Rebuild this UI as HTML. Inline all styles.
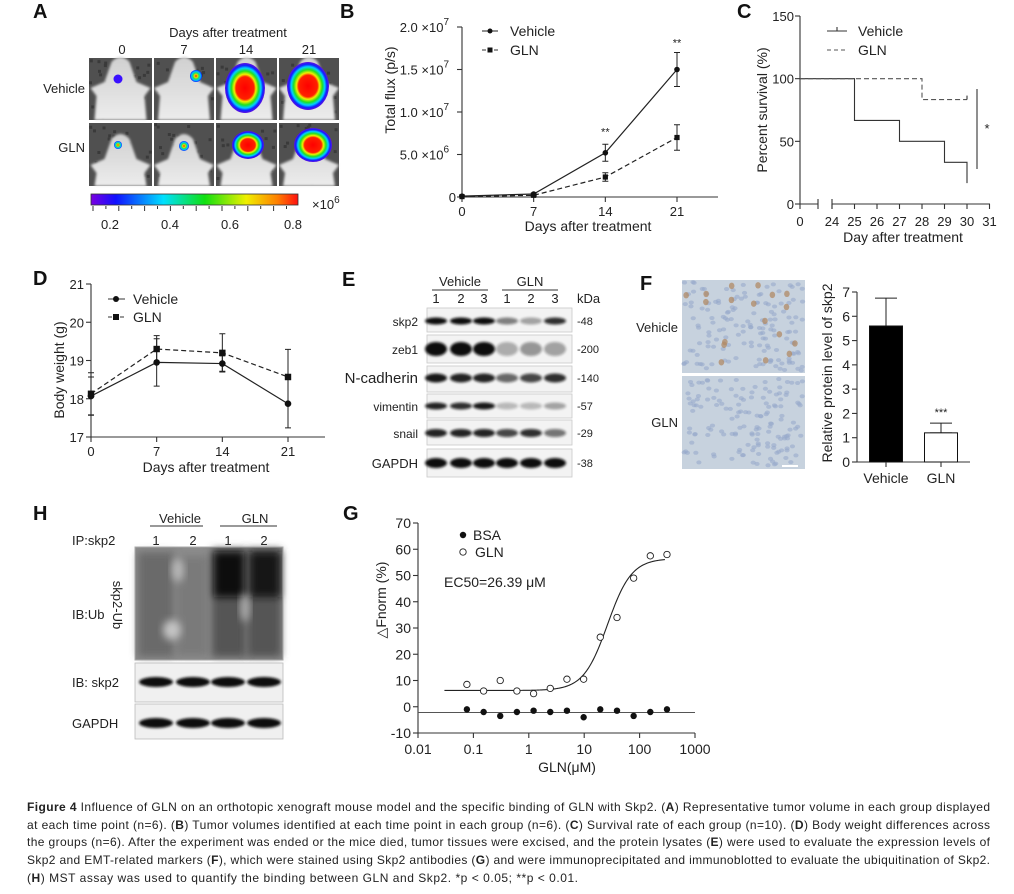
<!DOCTYPE html>
<html><head><meta charset="utf-8">
<style>
html,body{margin:0;padding:0;background:#fff;}
svg{display:block;font-family:"Liberation Sans",Arial,sans-serif;}
.t{font-size:13px;fill:#222;}
.lab{font-size:20px;font-weight:bold;fill:#111;}
.cap{font-size:12px;fill:#222;font-family:"Liberation Sans","DejaVu Sans",sans-serif;}
</style></head>
<body>
<svg id="fig" width="1014" height="894" viewBox="0 0 1014 894" xmlns="http://www.w3.org/2000/svg">
<defs>
<filter id="blur1" x="-30%" y="-60%" width="160%" height="220%"><feGaussianBlur stdDeviation="1.3"/></filter>
<filter id="blur3" x="-30%" y="-30%" width="160%" height="160%"><feGaussianBlur stdDeviation="4"/></filter>
<filter id="blur2" x="-30%" y="-30%" width="160%" height="160%"><feGaussianBlur stdDeviation="1.2"/></filter>
<linearGradient id="cbar" x1="0" x2="1" y1="0" y2="0">
<stop offset="0" stop-color="#7a00e0"/><stop offset="0.12" stop-color="#1010ff"/><stop offset="0.35" stop-color="#00e0ff"/><stop offset="0.55" stop-color="#10e010"/><stop offset="0.75" stop-color="#f0f000"/><stop offset="0.9" stop-color="#ff8000"/><stop offset="1" stop-color="#ff1010"/>
</linearGradient>
<radialGradient id="blob" cx="0.5" cy="0.5" r="0.5">
<stop offset="0" stop-color="#ff0000"/><stop offset="0.45" stop-color="#ff2000"/><stop offset="0.55" stop-color="#f0f000"/><stop offset="0.68" stop-color="#20e020"/><stop offset="0.8" stop-color="#00d0ff"/><stop offset="0.9" stop-color="#1020ff"/><stop offset="1" stop-color="#6010e0"/>
</radialGradient>
<radialGradient id="blobS" cx="0.5" cy="0.5" r="0.5">
<stop offset="0" stop-color="#ff2000"/><stop offset="0.3" stop-color="#e0e000"/><stop offset="0.5" stop-color="#20e060"/><stop offset="0.75" stop-color="#00c0ff"/><stop offset="1" stop-color="#1020ff"/>
</radialGradient>
<linearGradient id="bodyg" x1="0" x2="0" y1="0" y2="1"><stop offset="0" stop-color="#d0d0d0"/><stop offset="1" stop-color="#ececec"/></linearGradient>
</defs>
<rect x="0" y="0" width="1014" height="894" fill="#fff"/>

<g id="panelA">
<text class="lab" x="33" y="18">A</text>
<text class="t" x="228" y="37" text-anchor="middle" font-size="14">Days after treatment</text>
<text class="t" x="122" y="54" text-anchor="middle" font-size="14">0</text>
<text class="t" x="184" y="54" text-anchor="middle" font-size="14">7</text>
<text class="t" x="246" y="54" text-anchor="middle" font-size="14">14</text>
<text class="t" x="309" y="54" text-anchor="middle" font-size="14">21</text>
<text class="t" x="85" y="93" text-anchor="end" font-size="14">Vehicle</text>
<text class="t" x="85" y="152" text-anchor="end" font-size="14">GLN</text>
<rect x="91" y="194" width="207" height="11" fill="url(#cbar)" stroke="#333" stroke-width="0.8"/>
<g id="cbticks"></g>
<text class="t" x="110" y="229" text-anchor="middle" font-size="14">0.2</text>
<text class="t" x="170" y="229" text-anchor="middle" font-size="14">0.4</text>
<text class="t" x="230" y="229" text-anchor="middle" font-size="14">0.6</text>
<text class="t" x="293" y="229" text-anchor="middle" font-size="14">0.8</text>
<text class="t" x="312" y="209" font-size="14">×10<tspan dy="-6" font-size="10">6</tspan></text>
</g>

<g id="panelB">
<text class="lab" x="340" y="18">B</text>
</g>
<g id="panelC">
<text class="lab" x="737" y="18">C</text>
</g>
<g id="panelD">
<text class="lab" x="33" y="285">D</text>
</g>

<g id="panelE">
<text class="lab" x="342" y="286">E</text>
<text class="t" x="460" y="286" text-anchor="middle" font-size="13">Vehicle</text>
<line x1="432" y1="290" x2="488" y2="290" stroke="#333"/>
<text class="t" x="530" y="286" text-anchor="middle" font-size="13">GLN</text>
<line x1="502" y1="290" x2="558" y2="290" stroke="#333"/>
<text class="t" x="577" y="303" font-size="10">kDa</text>
</g>

<g id="panelF">
<text class="lab" x="640" y="290">F</text>
<text class="t" x="678" y="332" text-anchor="end" font-size="14">Vehicle</text>
<text class="t" x="678" y="427" text-anchor="end" font-size="14">GLN</text>
</g>

<g id="panelH">
<text class="lab" x="33" y="520">H</text>
<text class="t" x="180" y="523" text-anchor="middle" font-size="13">Vehicle</text>
<line x1="150" y1="526" x2="203" y2="526" stroke="#333"/>
<text class="t" x="255" y="523" text-anchor="middle" font-size="13">GLN</text>
<line x1="220" y1="526" x2="277" y2="526" stroke="#333"/>
<text class="t" x="72" y="545" font-size="13">IP:skp2</text>
<text class="t" x="156" y="545" text-anchor="middle" font-size="13">1</text>
<text class="t" x="193" y="545" text-anchor="middle" font-size="13">2</text>
<text class="t" x="228" y="545" text-anchor="middle" font-size="13">1</text>
<text class="t" x="264" y="545" text-anchor="middle" font-size="13">2</text>
<text class="t" x="72" y="619" font-size="13">IB:Ub</text>
<text class="t" x="113" y="605" font-size="13" text-anchor="middle" transform="rotate(90 113 605)">skp2-Ub</text>
<text class="t" x="72" y="687" font-size="13">IB: skp2</text>
<text class="t" x="72" y="728" font-size="13">GAPDH</text>
</g>

<g id="panelG">
<text class="lab" x="343" y="520">G</text>
</g>

<g id="caption">
<text class="cap" x="27" y="811" textLength="963" lengthAdjust="spacing"><tspan font-weight="bold">Figure 4</tspan> Influence of GLN on an orthotopic xenograft mouse model and the specific binding of GLN with Skp2. (<tspan font-weight="bold">A</tspan>) Representative tumor volume in each group displayed</text>
<text class="cap" x="27" y="829" textLength="963" lengthAdjust="spacing">at each time point (n=6). (<tspan font-weight="bold">B</tspan>) Tumor volumes identified at each time point in each group (n=6). (<tspan font-weight="bold">C</tspan>) Survival rate of each group (n=10). (<tspan font-weight="bold">D</tspan>) Body weight differences across</text>
<text class="cap" x="27" y="846" textLength="963" lengthAdjust="spacing">the groups (n=6). After the experiment was ended or the mice died, tumor tissues were excised, and the protein lysates (<tspan font-weight="bold">E</tspan>) were used to evaluate the expression levels of</text>
<text class="cap" x="27" y="864" textLength="963" lengthAdjust="spacing">Skp2 and EMT-related markers (<tspan font-weight="bold">F</tspan>), which were stained using Skp2 antibodies (<tspan font-weight="bold">G</tspan>) and were immunoprecipitated and immunoblotted to evaluate the ubiquitination of Skp2.</text>
<text class="cap" x="27" y="882" textLength="551" lengthAdjust="spacing">(<tspan font-weight="bold">H</tspan>) MST assay was used to quantify the binding between GLN and Skp2. *p &lt; 0.05; **p &lt; 0.01.</text>
</g>
</svg>

<script>
// ===== Panel B data =====
var bDays = [0, 7, 14, 21];
var bVehicle = [0.1e6, 0.35e6, 5.2e6, 15.0e6];
var bVehicleErr = [0.05e6, 0.1e6, 1.0e6, 2.0e6];
var bGLN = [0.05e6, 0.2e6, 2.35e6, 7.0e6];
var bGLNErr = [0.03e6, 0.08e6, 0.5e6, 1.5e6];
var bYTicks = [0, 5e6, 1e7, 1.5e7, 2e7];
var bYTickLabels = [["0",""], ["5.0 ×10","6"], ["1.0 ×10","7"], ["1.5 ×10","7"], ["2.0 ×10","7"]];
var bXTicks = [0, 7, 14, 21];
// ===== Panel C data =====
var cVehicleSteps = [[0,100],[25,100],[25,66.7],[27,66.7],[27,50],[29,50],[29,33.3],[30,33.3],[30,16.7]];
var cGLNSteps = [[0,100],[28,100],[28,83.3],[30,83.3]];
var cYTicks = [0, 50, 100, 150];
var cXTicks = [0, 24, 25, 26, 27, 28, 29, 30, 31];
// ===== Panel D data =====
var dDays = [0, 7, 14, 21];
var dVehicle = [18.07, 18.95, 18.92, 17.87];
var dVehicleErr = [0.5, 0.62, 0.2, 0.63];
var dGLN = [18.13, 19.3, 19.2, 18.57];
var dGLNErr = [0.55, 0.35, 0.5, 0.72];
var dYTicks = [17, 18, 19, 20, 21];
var dXTicks = [0, 7, 14, 21];
// ===== Panel F data =====
var fCats = ["Vehicle", "GLN"];
var fValues = [5.6, 1.2];
var fErr = [1.15, 0.4];
var fYTicks = [0, 1, 2, 3, 4, 5, 6, 7];
// ===== Panel G data =====
var gConc = [0.0763,0.153,0.305,0.61,1.22,2.44,4.88,9.77,19.5,39.1,78.1,156,312];
var gGLN = [8.5, 6, 10, 6, 5, 7, 10.5, 10.5, 26.5, 34, 49, 57.5, 58];
var gBSA = [-1, -2, -3.5, -2, -1.5, -2, -1.5, -4, -1, -1.5, -3.5, -2, -1];
var gFit = [6.2, 56.5, 26.39, 2.0]; // bottom, top, EC50, hill
var gBSALine = [-2.2];
var gYTicks = [-10, 0, 10, 20, 30, 40, 50, 60, 70];
var gXTicks = [0.01, 0.1, 1, 10, 100, 1000];
var gXTickLabels = ["0.01", "0.1", "1", "10", "100", "1000"];

var NS = "http://www.w3.org/2000/svg";
function mk(tag, attrs, parent) {
  var e = document.createElementNS(NS, tag);
  for (var k in attrs) e.setAttribute(k, attrs[k]);
  parent.appendChild(e);
  return e;
}
var el;
function G(id){ return document.getElementById(id); }

// ---------- Panel A ----------
(function(){
  var pA = G('panelA');
  var ct = G('cbticks');
  for (var i = 0; i < 16; i++) {
    var x = 93 + i * 12.9;
    el = mk('line', {x1:x, y1:206, x2:x, y2:(i%2==0?211:209), stroke:'#333', 'stroke-width':1}, ct);
    
    
  }
  var cells = [[89,58,63,62],[154,58,60,62],[216,58,61,62],[279,58,60,62],[89,123,63,63],[154,123,60,63],[216,123,61,63],[279,123,60,63]];
  var blobs = [[118,79,4,4,'s'],[196,76,6,6,'s'],[245,88,20,25,'b'],[308,86,21,24,'b'],[118,145,4,4,'s'],[184,146,5,5,'s'],[248,145,16,14,'b'],[313,145,19,17,'b']];
  var seed = 3;
  function rnd(){ seed = (seed * 16807) % 2147483647; return seed / 2147483647; }
  for (var j = 0; j < 8; j++) {
    var c = cells[j];
    var g = mk('g', {}, pA);
    
    
    mk('rect', {x:c[0], y:c[1], width:c[2], height:c[3], fill:'#505050'}, g);
    for (var n = 0; n < 25; n++) {
      mk('rect', {x:c[0]+rnd()*(c[2]-3), y:c[1]+rnd()*(c[3]-3), width:3, height:3, fill:'#3a3a3a'}, g);
    }
    var cx = c[0] + c[2]/2, y0 = c[1];
    var top = j<4 ? 4 : 16;
    var d = 'M'+(cx-9)+','+(y0+top)+' Q'+cx+','+(y0+top-10)+' '+(cx+9)+','+(y0+top)+
      ' L'+(cx+16)+','+(y0+top+20)+' L'+(cx+30)+','+(y0+top+26)+' L'+(cx+24)+','+(y0+top+34)+
      ' L'+(cx+26)+','+(y0+c[3])+' L'+(cx-26)+','+(y0+c[3])+' L'+(cx-24)+','+(y0+top+34)+
      ' L'+(cx-30)+','+(y0+top+26)+' L'+(cx-16)+','+(y0+top+20)+' Z';
    mk('path', {d:d, fill:'url(#bodyg)', filter:'url(#blur2)'}, g);
    var b = blobs[j];
    mk('ellipse', {cx:b[0], cy:b[1], rx:b[2], ry:b[3], fill: b[4]=='b' ? 'url(#blob)' : 'url(#blobS)'}, g);
  }
  var bv = blobs[0];
  mk('ellipse', {cx:bv[0], cy:bv[1], rx:4.5, ry:4.5, fill:'#3a10ff'}, pA);
})();

// ---------- Axis helpers ----------
function axisLine(p, x1,y1,x2,y2,name){
  el = mk('line', {x1:x1,y1:y1,x2:x2,y2:y2,stroke:'#333','stroke-width':1.1}, p);
  
  
}
function txt(p, x, y, s, anchor, size, name){
  var t = mk('text', {x:x, y:y, 'text-anchor':anchor||'middle', 'font-size':size||13, fill:'#222'}, p);
  t.textContent = s;
  
  
  return t;
}
function errbar(p, x, y1, y2, w, name){
  var d = 'M'+x+','+y1+' V'+y2+' M'+(x-w)+','+y1+' H'+(x+w)+' M'+(x-w)+','+y2+' H'+(x+w);
  el = mk('path', {d:d, stroke:'#222', 'stroke-width':1, fill:'none'}, p);
  
  
}

// ---------- Panel B ----------
(function(){
  var p = G('panelB');
  function xB(d){ return 462 + d * (677-462)/21; }
  function yB(v){ return 197 - v/2e7 * 170; }
  axisLine(p, 462, yB(2e7), 462, 197, 'b-y-axis');
  axisLine(p, 462, 197, 718, 197, 'b-x-axis');
  bYTicks.forEach(function(v,i){
    axisLine(p, 457, yB(v), 462, yB(v), 'b-y-tick');
    var t = txt(p, 456, yB(v)+5, bYTickLabels[i][0], 'end', 13, 'b-y-tick-label');
    if (bYTickLabels[i][1]) {
      t.setAttribute('x', 449);
      var s = mk('tspan', {dy:-7, 'font-size':10}, t);
      s.textContent = bYTickLabels[i][1];
    }
  });
  bXTicks.forEach(function(d){
    axisLine(p, xB(d), 197, xB(d), 202, 'b-x-tick');
    txt(p, xB(d), 216, String(d), 'middle', 13, 'b-x-tick-label');
  });
  txt(p, 588, 231, 'Days after treatment', 'middle', 14, 'b-x-axis-title');
  var yt = txt(p, 395, 90, 'Total flux (p/s)', 'middle', 14, 'b-y-axis-title');
  yt.setAttribute('transform', 'rotate(-90 395 90)');
  var pts = bDays.map(function(d,i){ return xB(d)+','+yB(bVehicle[i]); }).join(' ');
  el = mk('polyline', {points:pts, fill:'none', stroke:'#222', 'stroke-width':1.2}, p);
  
  
  var pts2 = bDays.map(function(d,i){ return xB(d)+','+yB(bGLN[i]); }).join(' ');
  el = mk('polyline', {points:pts2, fill:'none', stroke:'#222', 'stroke-width':1.2, 'stroke-dasharray':'5,3'}, p);
  
  
  bDays.forEach(function(d,i){
    errbar(p, xB(d), yB(bVehicle[i]+bVehicleErr[i]), yB(bVehicle[i]-bVehicleErr[i]), 3, 'b-vehicle-errorbar');
    errbar(p, xB(d), yB(bGLN[i]+bGLNErr[i]), yB(bGLN[i]-bGLNErr[i]), 3, 'b-gln-errorbar');
    el = mk('circle', {cx:xB(d), cy:yB(bVehicle[i]), r:2.8, fill:'#111'}, p);
    
    
    el = mk('rect', {x:xB(d)-2.6, y:yB(bGLN[i])-2.6, width:5.2, height:5.2, fill:'#111'}, p);
    
    
  });
  txt(p, xB(14), yB(bVehicle[2]+bVehicleErr[2])-9, '**', 'middle', 11, 'b-significance-14');
  txt(p, xB(21), yB(bVehicle[3]+bVehicleErr[3])-6, '**', 'middle', 11, 'b-significance-21');
  axisLine(p, 482, 31, 498, 31, 'b-legend-vehicle-line');
  el = mk('circle', {cx:490, cy:31, r:2.5, fill:'#111'}, p);
  
  
  txt(p, 510, 36, 'Vehicle', 'start', 14, 'b-legend-vehicle-label');
  el = mk('line', {x1:482, y1:50, x2:498, y2:50, stroke:'#333', 'stroke-dasharray':'4,2'}, p);
  
  
  el = mk('rect', {x:487.5, y:47.5, width:5, height:5, fill:'#111'}, p);
  
  
  txt(p, 510, 55, 'GLN', 'start', 14, 'b-legend-gln-label');
})();

// ---------- Panel C ----------
(function(){
  var p = G('panelC');
  function xC(d){ return d == 0 ? 800 : 832 + (d-24)*22.5; }
  function yC(v){ return 204 - v * 188/150; }
  axisLine(p, 800, 16, 800, 204, 'c-y-axis');
  axisLine(p, 800, 204, 818, 204, 'c-x-axis-left');
  axisLine(p, 818, 199, 818, 209, 'c-x-axis-break-left');
  axisLine(p, 832, 204, 990, 204, 'c-x-axis-right');
  axisLine(p, 832, 199, 832, 209, 'c-x-axis-break-right');
  cYTicks.forEach(function(v){
    axisLine(p, 795, yC(v), 800, yC(v), 'c-y-tick');
    txt(p, 794, yC(v)+5, String(v), 'end', 13, 'c-y-tick-label');
  });
  cXTicks.forEach(function(d){
    axisLine(p, xC(d), 204, xC(d), 209, 'c-x-tick');
    txt(p, xC(d), 226, String(d), 'middle', 13, 'c-x-tick-label');
  });
  txt(p, 903, 242, 'Day after treatment', 'middle', 14, 'c-x-axis-title');
  var yt = txt(p, 767, 110, 'Percent survival (%)', 'middle', 14, 'c-y-axis-title');
  yt.setAttribute('transform', 'rotate(-90 767 110)');
  function stepPath(steps){
    return steps.map(function(s,i){ return (i?'L':'M')+xC(s[0])+','+yC(s[1]); }).join(' ');
  }
  el = mk('path', {d:stepPath(cVehicleSteps), fill:'none', stroke:'#333', 'stroke-width':1.1}, p);
  
  
  el = mk('path', {d:stepPath(cGLNSteps), fill:'none', stroke:'#555', 'stroke-width':1.1, 'stroke-dasharray':'5,3'}, p);
  
  
  var last = cGLNSteps[cGLNSteps.length-1];
  axisLine(p, xC(last[0]), yC(last[1])-4, xC(last[0]), yC(last[1]), 'c-gln-censor-mark');
  axisLine(p, 977, 89, 977, 169, 'c-significance-bracket');
  txt(p, 987, 133, '*', 'middle', 13, 'c-significance-star');
  axisLine(p, 827, 31, 847, 31, 'c-legend-vehicle-line');
  axisLine(p, 837, 27, 837, 31, 'c-legend-vehicle-tick');
  txt(p, 858, 36, 'Vehicle', 'start', 14, 'c-legend-vehicle-label');
  el = mk('line', {x1:827, y1:50, x2:847, y2:50, stroke:'#555', 'stroke-dasharray':'4,3'}, p);
  
  
  txt(p, 858, 55, 'GLN', 'start', 14, 'c-legend-gln-label');
})();

// ---------- Panel D ----------
(function(){
  var p = G('panelD');
  function xD(d){ return 91 + d * (288-91)/21; }
  function yD(w){ return 437 - (w-17) * 38.25; }
  axisLine(p, 91, yD(21), 91, 437, 'd-y-axis');
  axisLine(p, 91, 437, 325, 437, 'd-x-axis');
  dYTicks.forEach(function(v){
    axisLine(p, 86, yD(v), 91, yD(v), 'd-y-tick');
    txt(p, 84, yD(v)+5, String(v), 'end', 13, 'd-y-tick-label');
  });
  dXTicks.forEach(function(d){
    axisLine(p, xD(d), 437, xD(d), 442, 'd-x-tick');
    txt(p, xD(d), 456, String(d), 'middle', 13, 'd-x-tick-label');
  });
  txt(p, 206, 472, 'Days after treatment', 'middle', 14, 'd-x-axis-title');
  var yt = txt(p, 64, 370, 'Body weight (g)', 'middle', 14, 'd-y-axis-title');
  yt.setAttribute('transform', 'rotate(-90 64 370)');
  el = mk('polyline', {points:dDays.map(function(d,i){return xD(d)+','+yD(dVehicle[i]);}).join(' '), fill:'none', stroke:'#222', 'stroke-width':1.2}, p);
  
  
  el = mk('polyline', {points:dDays.map(function(d,i){return xD(d)+','+yD(dGLN[i]);}).join(' '), fill:'none', stroke:'#222', 'stroke-width':1.2, 'stroke-dasharray':'5,3'}, p);
  
  
  dDays.forEach(function(d,i){
    errbar(p, xD(d), yD(dVehicle[i]+dVehicleErr[i]), yD(dVehicle[i]-dVehicleErr[i]), 3, 'd-vehicle-errorbar');
    errbar(p, xD(d), yD(dGLN[i]+dGLNErr[i]), yD(dGLN[i]-dGLNErr[i]), 3, 'd-gln-errorbar');
    el = mk('circle', {cx:xD(d), cy:yD(dVehicle[i]), r:3.3, fill:'#111'}, p);
    
    
    el = mk('rect', {x:xD(d)-3.2, y:yD(dGLN[i])-3.2, width:6.4, height:6.4, fill:'#111'}, p);
    
    
  });
  axisLine(p, 108, 299, 125, 299, 'd-legend-vehicle-line');
  el = mk('circle', {cx:116, cy:299, r:3, fill:'#111'}, p);
  
  
  txt(p, 133, 304, 'Vehicle', 'start', 14, 'd-legend-vehicle-label');
  el = mk('line', {x1:108, y1:317, x2:125, y2:317, stroke:'#333', 'stroke-dasharray':'4,2'}, p);
  
  
  el = mk('rect', {x:113, y:314, width:6, height:6, fill:'#111'}, p);
  
  
  txt(p, 133, 322, 'GLN', 'start', 14, 'd-legend-gln-label');
})();

// ---------- Panel E (blots) ----------
(function(){
  var p = G('panelE');
  var lanes = [436, 461, 484, 507, 531, 555];
  var laneNums = ['1','2','3','1','2','3'];
  lanes.forEach(function(x,i){ txt(p, x, 303, laneNums[i], 'middle', 13, 'e-lane-number'); });
  var rows = [
    ['skp2', 308, 332, 321, 3.5, [1,1,1,.5,.35,.85], '48', 12],
    ['zeb1', 335, 363, 349, 7, [1,1,1,.3,.4,.35], '200', 12],
    ['N-cadherin', 366, 392, 378, 4.5, [.95,.9,.9,.6,.75,.85], '140', 15],
    ['vimentin', 394, 418, 406, 3.5, [.9,.85,.95,.25,.25,.35], '57', 12],
    ['snail', 420, 445, 433, 4, [.9,.9,.9,.75,.85,.55], '29', 12],
    ['GAPDH', 449, 477, 463, 5, [1,1,1,1,1,1], '38', 13]
  ];
  rows.forEach(function(r){
    var g = mk('g', {}, p);
    
    
    mk('rect', {x:427, y:r[1], width:145, height:r[2]-r[1], fill:'#f3f3f3', stroke:'#c8c8c8', 'stroke-width':0.8}, g);
    lanes.forEach(function(x,i){
      mk('ellipse', {cx:x, cy:r[3], rx:11, ry:r[4], fill:'#111', opacity:r[5][i], filter:'url(#blur1)'}, g);
    });
    txt(p, 418, r[3]+5, r[0], 'end', r[7], 'e-row-label');
    txt(p, 577, r[3]+4, '-' + r[6], 'start', 11, 'e-kda-marker');
  });
})();

// ---------- Panel F ----------
(function(){
  var p = G('panelF');
  var seed = 7;
  function rnd(){ seed = (seed * 16807) % 2147483647; return seed / 2147483647; }
  [[280, 93, true], [376, 93, false]].forEach(function(ph, k){
    var g = mk('g', {}, p);
    
    
    mk('rect', {x:682, y:ph[0], width:123, height:ph[1], fill:'#c7d2de'}, g);
    for (var i = 0; i < 150; i++) {
      var cx = 684 + rnd()*119, cy = ph[0] + 2 + rnd()*(ph[1]-4);
      mk('ellipse', {cx:cx, cy:cy, rx:2.6, ry:2, fill:'#98aacb', opacity:0.6}, g);
    }
    if (ph[2]) {
      for (var j = 0; j < 18; j++) {
        mk('ellipse', {cx:686 + rnd()*115, cy:ph[0]+4+rnd()*(ph[1]-8), rx:2.8, ry:3.2, fill:'#b08a66', opacity:0.75}, g);
      }
    }
  });
  el = mk('rect', {x:782, y:465, width:16, height:2, fill:'#fff'}, p);
  
  
  function yF(v){ return 462 - v * 170/7; }
  var xCat = [886, 941];
  axisLine(p, 857, yF(7), 857, 462, 'f-y-axis');
  axisLine(p, 857, 462, 970, 462, 'f-x-axis');
  fYTicks.forEach(function(v){
    axisLine(p, 852, yF(v), 857, yF(v), 'f-y-tick');
    txt(p, 850, yF(v)+5, String(v), 'end', 14, 'f-y-tick-label');
  });
  fCats.forEach(function(c, i){
    errbar(p, xCat[i], yF(fValues[i]+fErr[i]), yF(fValues[i]), 11, 'f-errorbar-' + c.toLowerCase());
    el = mk('rect', {x:xCat[i]-16.5, y:yF(fValues[i]), width:33, height:462-yF(fValues[i]), fill: i==0 ? '#000' : '#fff', stroke:'#111', 'stroke-width':1}, p);
    
    
    axisLine(p, xCat[i], 462, xCat[i], 467, 'f-x-tick');
    txt(p, xCat[i], 483, c, 'middle', 14, 'f-x-tick-label');
  });
  txt(p, xCat[1], yF(fValues[1]+fErr[1])-7, '***', 'middle', 11, 'f-significance');
  var yt = txt(p, 832, 373, 'Relative protein level of skp2', 'middle', 14, 'f-y-axis-title');
  yt.setAttribute('transform', 'rotate(-90 832 373)');
})();

// ---------- Panel H ----------
(function(){
  var p = G('panelH');
  var lanes = [156, 193, 228, 264];
  var g = mk('g', {}, p);
  
  
  mk('rect', {x:135, y:547, width:148, height:113, fill:'#8c8c8c'}, g);
  mk('rect', {x:138, y:552, width:36, height:105, fill:'#6a6a6a', filter:'url(#blur3)'}, g);
  mk('rect', {x:176, y:556, width:32, height:100, fill:'#7a7a7a', filter:'url(#blur3)'}, g);
  mk('rect', {x:212, y:549, width:34, height:108, fill:'#555', filter:'url(#blur3)'}, g);
  mk('rect', {x:247, y:549, width:34, height:108, fill:'#555', filter:'url(#blur3)'}, g);
  mk('rect', {x:214, y:552, width:30, height:45, fill:'#111', filter:'url(#blur3)'}, g);
  mk('rect', {x:250, y:552, width:30, height:45, fill:'#151515', filter:'url(#blur3)'}, g);
  mk('ellipse', {cx:172, cy:630, rx:9, ry:10, fill:'#c4c4c4', filter:'url(#blur3)'}, g);
  mk('ellipse', {cx:178, cy:570, rx:6, ry:12, fill:'#b8b8b8', filter:'url(#blur3)'}, g);
  mk('ellipse', {cx:245, cy:608, rx:5, ry:14, fill:'#aaa', filter:'url(#blur3)'}, g);
  mk('rect', {x:135, y:547, width:148, height:113, fill:'none', stroke:'#aaa'}, g);
  [[663, 702, 682, 5, 'h-skp2-blot'], [704, 739, 723, 5, 'h-gapdh-blot']].forEach(function(r){
    var b = mk('g', {}, p);
    
    
    mk('rect', {x:135, y:r[0], width:148, height:r[1]-r[0], fill:'#f0f0f0', stroke:'#bbb', 'stroke-width':0.8}, b);
    lanes.forEach(function(x){
      mk('ellipse', {cx:x, cy:r[2], rx:17, ry:r[3], fill:'#111', filter:'url(#blur1)'}, b);
    });
  });
})();

// ---------- Panel G ----------
(function(){
  var p = G('panelG');
  function xG(c){ return 418 + (Math.log10(c) + 2) * 55.4; }
  function yG(v){ return 733 - (v + 10) * 2.625; }
  axisLine(p, 418, yG(70), 418, 733, 'g-y-axis');
  axisLine(p, 418, 733, 695, 733, 'g-x-axis');
  gYTicks.forEach(function(v){
    axisLine(p, 413, yG(v), 418, yG(v), 'g-y-tick');
    txt(p, 411, yG(v)+5, String(v), 'end', 14, 'g-y-tick-label');
  });
  gXTicks.forEach(function(c, i){
    axisLine(p, xG(c), 733, xG(c), 738, 'g-x-tick');
    txt(p, xG(c), 754, gXTickLabels[i], 'middle', 14, 'g-x-tick-label');
  });
  txt(p, 567, 772, 'GLN(μM)', 'middle', 14, 'g-x-axis-title');
  var yt = txt(p, 386, 600, '△Fnorm (%)', 'middle', 14, 'g-y-axis-title');
  yt.setAttribute('transform', 'rotate(-90 386 600)');
  el = mk('line', {x1:418, y1:yG(gBSALine[0]), x2:695, y2:yG(gBSALine[0]), stroke:'#555', 'stroke-width':1}, p);
  
  
  var d = '';
  for (var lc = Math.log10(0.03); lc <= Math.log10(300); lc += 0.02) {
    var c = Math.pow(10, lc);
    var v = gFit[0] + (gFit[1]-gFit[0]) / (1 + Math.pow(gFit[2]/c, gFit[3]));
    d += (d ? 'L' : 'M') + xG(c).toFixed(2) + ',' + yG(v).toFixed(2);
  }
  el = mk('path', {d:d, fill:'none', stroke:'#222', 'stroke-width':1.1}, p);
  
  
  gConc.forEach(function(c, i){
    el = mk('circle', {cx:xG(c), cy:yG(gGLN[i]), r:3.2, fill:'#fff', stroke:'#222', 'stroke-width':0.9}, p);
    
    
    el = mk('circle', {cx:xG(c), cy:yG(gBSA[i]), r:3.2, fill:'#111'}, p);
    
    
  });
  el = mk('circle', {cx:463, cy:535, r:3.2, fill:'#111'}, p);
  
  
  txt(p, 473, 540, 'BSA', 'start', 14, 'g-legend-bsa-label');
  el = mk('circle', {cx:463, cy:552, r:3.2, fill:'#fff', stroke:'#222', 'stroke-width':0.9}, p);
  
  
  txt(p, 475, 557, 'GLN', 'start', 14, 'g-legend-gln-label');
  txt(p, 444, 587, 'EC50=26.39 μM', 'start', 14, 'g-ec50-annotation');
})();
</script>
</body></html>
